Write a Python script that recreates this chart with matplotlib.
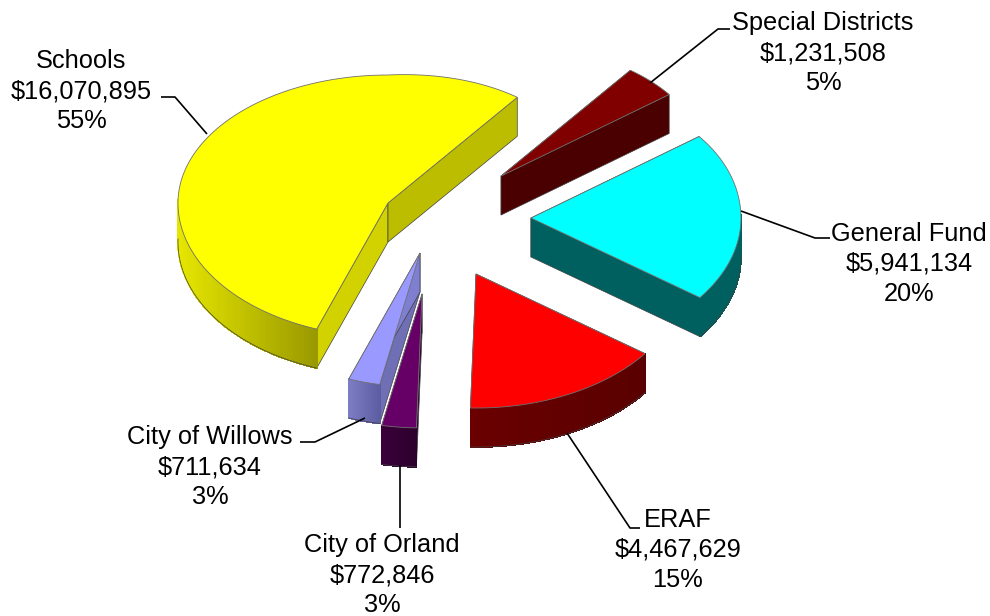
import numpy as np
import matplotlib
matplotlib.use('Agg')
import matplotlib.pyplot as plt
from matplotlib.patches import Polygon

# clockwise from the top right
names = ['Special Districts', 'General Fund', 'ERAF', 'City of Orland', 'City of Willows', 'Schools']
values = [1231508, 5941134, 4467629, 772846, 711634, 16070895]
percents = ['5%', '20%', '15%', '3%', '3%', '55%']

# pie look
explode_x = [0.467, 0.476, 0.489, 0.388, 0.196, 0.234]
explode_y = [0.469, 0.0, 0.465, 0.57, 0.271, 0.242]
top_colors = ['#800000', '#00FFFF', '#FF0000', '#660066', '#9999FF', '#FFFF00']
start_wall_colors = ['#4A0000', '#006060', '#5C0000', '#330033', '#6F6FB5', '#D2D200']
end_wall_colors = ['#4A0000', '#006060', '#5C0000', '#330033', '#7F7FD2', '#BDBD00']
wall_light = ['#4A0000', '#006060', '#6A0000', '#3A003A', '#7C7CC4', '#E6E600']
wall_dark = ['#4A0000', '#006060', '#5A0000', '#2C002C', '#5C5CA0', '#999900']
draw_order = [5, 0, 1, 4, 3, 2]

center_x, center_y = 431, 218
rx = 210
ry_back, ry_front = 128, 134
back_right_lift = 5  # the perspective pushes the far right side up a little
depth = 39
start_angle = 52

# label centre and leader line for each slice
label_pos = [(823, 53), (909, 264), (678, 550), (382, 575), (210, 467), (81, 91)]
leaders = [
    ([650, 718, 730], [83, 29, 29]),
    ([741, 815, 830], [211, 238, 238]),
    ([567, 630, 640], [433, 528, 528]),
    ([400, 400], [465, 528]),
    ([365, 315, 300], [418, 442, 442]),
    ([207, 175, 161], [134, 97, 97]),
]

plt.rcParams['font.family'] = ['Liberation Sans', 'DejaVu Sans']


def blend(c1, c2, t):
    a = np.array(matplotlib.colors.to_rgb(c1))
    b = np.array(matplotlib.colors.to_rgb(c2))
    return tuple(a + (b - a) * t)


def y_radius(s):
    return np.where(s < 0, ry_front, ry_back)


fig = plt.figure(figsize=(9.9, 6.16), dpi=100)
ax = fig.add_axes([0, 0, 1, 1])
ax.set_xlim(0, 990)
ax.set_ylim(616, 0)
ax.axis('off')

spans = 360 * np.array(values) / sum(values)
ends = start_angle - np.cumsum(spans)
starts = ends + spans

for layer, i in enumerate(draw_order):
    mid = np.radians((starts[i] + ends[i]) / 2)
    ox = center_x + explode_x[i] * rx * np.cos(mid)
    oy = center_y - explode_y[i] * y_radius(np.sin(mid)) * np.sin(mid)

    theta = np.radians(np.linspace(starts[i], ends[i], 300))
    arc_x = ox + rx * np.cos(theta)
    arc_y = oy - y_radius(np.sin(theta)) * np.sin(theta)
    first_quadrant = (np.cos(theta) > 0) & (np.sin(theta) > 0)
    arc_y = arc_y - back_right_lift * np.sin(2 * theta) * first_quadrant
    z = 1 + layer * 3

    # the two flat walls
    for k, col in ((0, start_wall_colors[i]), (-1, end_wall_colors[i])):
        quad = [(ox, oy), (arc_x[k], arc_y[k]), (arc_x[k], arc_y[k] + depth), (ox, oy + depth)]
        ax.add_patch(Polygon(quad, closed=True, fc=col, ec='#404040', lw=0.5, zorder=z))

    # curved wall, shaded left to right across the front
    front = np.where(np.sin(theta) < 0.03)[0]
    if len(front) > 1:
        lo, hi = arc_x[front].min(), arc_x[front].max()
        for a, b in zip(front[:-1], front[1:]):
            t = (arc_x[a] - lo) / max(hi - lo, 1)
            col = blend(wall_light[i], wall_dark[i], t)
            quad = [(arc_x[a], arc_y[a]), (arc_x[b], arc_y[b]), (arc_x[b], arc_y[b] + depth), (arc_x[a], arc_y[a] + depth)]
            ax.add_patch(Polygon(quad, closed=True, fc=col, ec=col, lw=0.6, antialiased=False, zorder=z + 1))
        ax.plot(arc_x[front], arc_y[front] + depth, color='#404040', lw=0.5, zorder=z + 1)

    # top face
    top = np.column_stack([np.r_[ox, arc_x], np.r_[oy, arc_y]])
    ax.add_patch(Polygon(top, closed=True, fc=top_colors[i], ec='#707070', lw=0.6, zorder=z + 2))

for i, name in enumerate(names):
    text = f'{name}\n${values[i]:,}\n{percents[i]}'
    ax.text(label_pos[i][0], label_pos[i][1], text, ha='center', va='center',
            fontsize=18.3, linespacing=1.3, color='black', zorder=50)
    ax.plot(leaders[i][0], leaders[i][1], color='black', lw=1.2, zorder=40, solid_capstyle='butt')

fig.savefig('out.png', dpi=100)
